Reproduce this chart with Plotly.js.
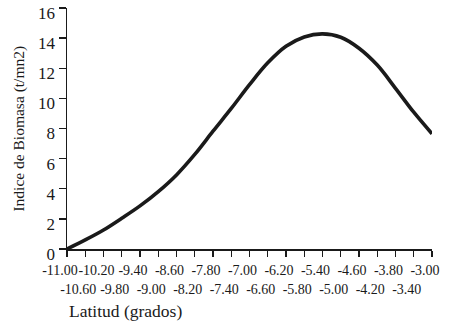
<!DOCTYPE html>
<html>
<head>
<meta charset="utf-8">
<script src="https://cdn.plot.ly/plotly-3.0.1.min.js"></script>
<style>html,body{margin:0;padding:0;background:#fff;}#chart{width:450px;height:325px;}</style>
</head>
<body>
<div id="chart"></div>
<script>
const latitud = [-11.0, -10.6, -10.2, -9.8, -9.4, -9.0, -8.6, -8.2, -7.8, -7.4, -7.0, -6.6, -6.2, -5.8, -5.4, -5.0, -4.6, -4.2, -3.8, -3.4, -3.0];
const biomasa = [0.0, 0.6, 1.26, 2.04, 2.86, 3.81, 4.92, 6.28, 7.82, 9.33, 10.91, 12.36, 13.46, 14.08, 14.28, 14.06, 13.33, 12.21, 10.67, 9.08, 7.65];
const xTickVals = [-11.0, -10.6, -10.2, -9.8, -9.4, -9.0, -8.6, -8.2, -7.8, -7.4, -7.0, -6.6, -6.2, -5.8, -5.4, -5.0, -4.6, -4.2, -3.8, -3.4, -3.0];
const xTickLabels = ["-11.00","-10.60","-10.20","-9.80","-9.40","-9.00","-8.60","-8.20","-7.80","-7.40","-7.00","-6.60","-6.20","-5.80","-5.40","-5.00","-4.60","-4.20","-3.80","-3.40","-3.00"];
const yTickVals = [0, 2, 4, 6, 8, 10, 12, 14, 16];
const yTickLabels = ["0","2","4","6","8","10","12","14","16"];
const xTitle = "Latitud (grados)";
const yTitle = "Indice de Biomasa (t/mn2)";

const ink = "#1a1a1a";
const serif = "Liberation Serif, DejaVu Serif, serif";

const ticktextX = xTickLabels.map((t, i) => (i % 2 === 1 ? " <br>" + t : t));

const trace = {
  x: latitud, y: biomasa, type: "scatter", mode: "lines",
  line: {color: ink, width: 3.6, shape: "spline", smoothing: 1.0},
  cliponaxis: false, hoverinfo: "skip"
};

const layout = {
  width: 450, height: 325,
  margin: {l: 67, r: 18, t: 8, b: 76},
  paper_bgcolor: "#fff", plot_bgcolor: "#fff",
  showlegend: false,
  font: {family: serif, color: ink},
  xaxis: {
    range: [-11, -3], tickmode: "array", tickvals: xTickVals, ticktext: ticktextX,
    showgrid: false, zeroline: false, showline: true, linecolor: ink, linewidth: 1.5,
    ticks: "outside", ticklen: 6, tickwidth: 1.3, tickcolor: ink,
    tickfont: {family: serif, size: 14, color: ink}, tickangle: 0, automargin: false,
    ticklabelshift: -7, ticklabelstandoff: 2
  },
  yaxis: {
    range: [0, 16], tickmode: "array", tickvals: yTickVals, ticktext: yTickLabels,
    showgrid: false, zeroline: false, showline: true, linecolor: ink, linewidth: 1.5,
    ticks: "outside", ticklen: 7, tickwidth: 1.3, tickcolor: ink,
    tickfont: {family: serif, size: 17, color: ink}, ticklabelshift: 5, automargin: false
  },
  annotations: [
    {text: yTitle, xref: "paper", yref: "paper", x: -0.134, y: 0.5, textangle: -90,
     showarrow: false, xanchor: "center", yanchor: "middle", font: {family: serif, size: 15.5, color: ink}},
    {text: xTitle, xref: "paper", yref: "paper", x: 0.159, y: -0.257,
     showarrow: false, xanchor: "center", yanchor: "middle", font: {family: serif, size: 17.5, color: ink}}
  ]
};

Plotly.newPlot("chart", [trace], layout, {staticPlot: true, displayModeBar: false});
</script>
</body>
</html>
